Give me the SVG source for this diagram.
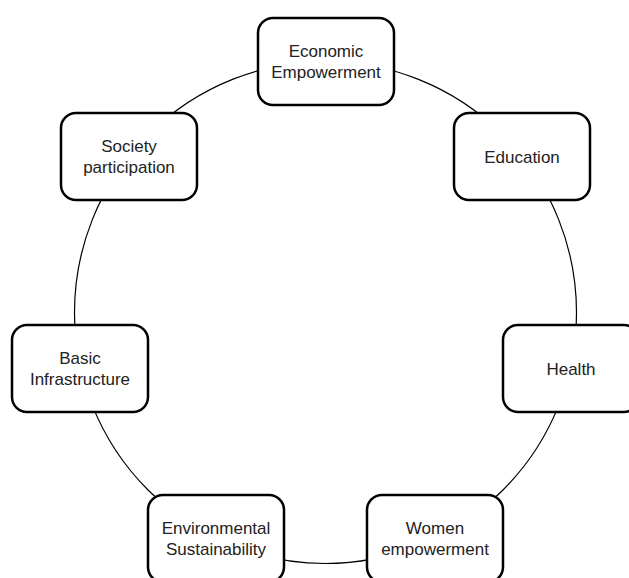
<svg xmlns="http://www.w3.org/2000/svg" width="629" height="578" viewBox="0 0 629 578">
<style>
.box{fill:#fff;stroke:#000;stroke-width:2.5}
.lbl{font-family:"Liberation Sans",Arial,sans-serif;font-size:17px;fill:#222;text-anchor:middle}
.conn{fill:none;stroke:#000;stroke-width:1.2}
</style>
<rect width="629" height="578" fill="#fff"/>
<g id="connectors">
<circle class="conn" cx="325.5" cy="312.5" r="251"/>
</g>
<g id="economic">
<rect class="box" x="258" y="18" width="136" height="87" rx="15"/>
<text class="lbl" x="326" y="57">Economic</text>
<text class="lbl" x="326" y="78">Empowerment</text>
</g>
<g id="education">
<rect class="box" x="454" y="113" width="136" height="87" rx="15"/>
<text class="lbl" x="522" y="163">Education</text>
</g>
<g id="health">
<rect class="box" x="503" y="325" width="136" height="87" rx="15"/>
<text class="lbl" x="571" y="375">Health</text>
</g>
<g id="women">
<rect class="box" x="367" y="495" width="136" height="87" rx="15"/>
<text class="lbl" x="435" y="534">Women</text>
<text class="lbl" x="435" y="555">empowerment</text>
</g>
<g id="environmental">
<rect class="box" x="148" y="495" width="136" height="87" rx="15"/>
<text class="lbl" x="216" y="534">Environmental</text>
<text class="lbl" x="216" y="555">Sustainability</text>
</g>
<g id="basic">
<rect class="box" x="12" y="325" width="136" height="87" rx="15"/>
<text class="lbl" x="80" y="364">Basic</text>
<text class="lbl" x="80" y="385">Infrastructure</text>
</g>
<g id="society">
<rect class="box" x="61" y="113" width="136" height="87" rx="15"/>
<text class="lbl" x="129" y="152">Society</text>
<text class="lbl" x="129" y="173">participation</text>
</g>
</svg>
